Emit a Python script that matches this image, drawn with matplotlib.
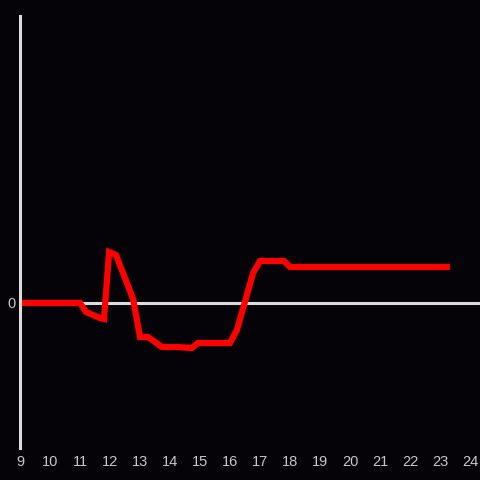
import matplotlib.pyplot as plt

# Stunden und Werte
hours = [9.0, 11.0, 11.2, 11.67, 11.8, 11.97, 12.2, 12.77, 13.0, 13.27, 13.73,
         14.23, 14.73, 14.93, 16.0, 16.23, 16.77, 17.0, 17.8, 18.0, 23.33]
values = [0, 0, -9, -15, -16, 51, 48, 4, -34, -34, -44,
          -44, -45, -40, -40, -27, 30, 42, 42, 36, 36]
x_ticks = list(range(9, 25))

bg = '#050308'
fg = '#dcdcdc'

plt.rcParams['font.family'] = ['Liberation Sans', 'DejaVu Sans']

fig = plt.figure(figsize=(4.8, 4.8), dpi=100, facecolor=bg)
ax = fig.add_axes([20 / 480, 32 / 480, 460 / 480, 432 / 480], facecolor=bg)

ax.axhline(0, color=fg, lw=2.2, zorder=1)
ax.plot(hours, values, color='#ff0000', lw=4.5, solid_joinstyle='miter',
        solid_capstyle='butt', zorder=2)

ax.set_xlim(9, 24.333)
ax.set_ylim(-145, 287)
ax.set_xticks(x_ticks)
ax.set_yticks([0])
ax.tick_params(length=0, colors='#c8c8c8', labelsize=10.5, pad=5)
ax.tick_params(axis='y', pad=3)

for s in ['top', 'right', 'bottom']:
    ax.spines[s].set_visible(False)
ax.spines['left'].set_color(fg)
ax.spines['left'].set_linewidth(2.2)

fig.savefig('out.png', dpi=100, facecolor=bg)
